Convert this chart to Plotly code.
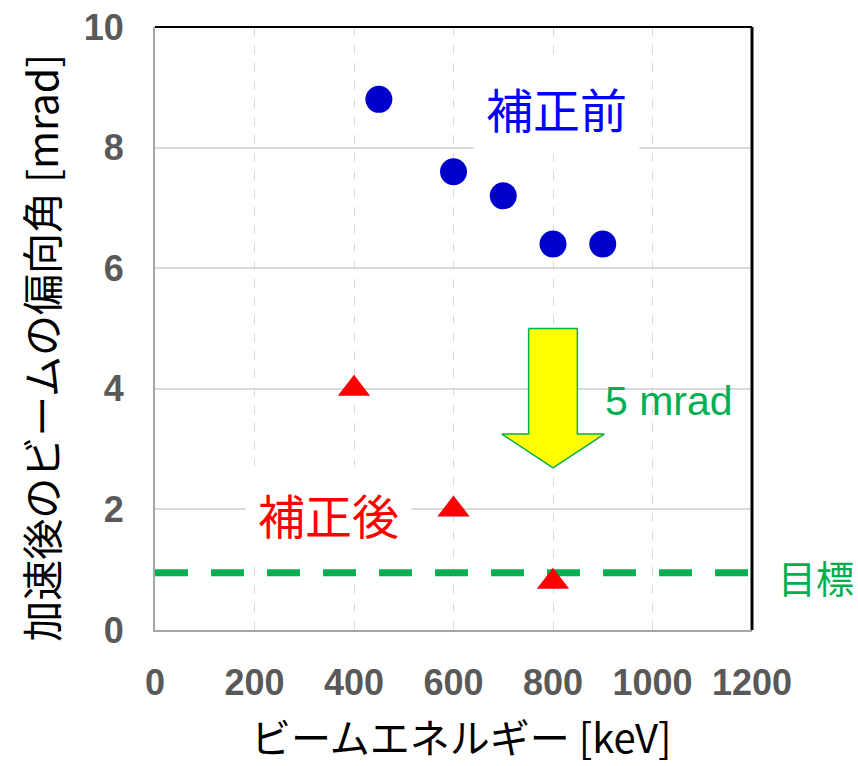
import plotly.graph_objects as go

# Beam deflection angle vs. beam energy, before and after correction
energy_before = [450, 600, 700, 800, 900]
angle_before = [8.8, 7.6, 7.2, 6.4, 6.4]

energy_after = [400, 600, 800]
angle_after = [4.0, 2.0, 0.8]

target_angle = 0.95
x_range = [0, 1200]
y_range = [0, 10]
x_ticks = [0, 200, 400, 600, 800, 1000, 1200]
y_ticks = [0, 2, 4, 6, 8, 10]

# Down arrow showing the ~5 mrad reduction at 800 keV
arrow_x = 800
arrow_top = 5.0
arrow_neck = 3.25
arrow_tip = 2.69
shaft_half = 49
head_half = 103

GREEN = "#00B050"
TICK_GREY = "#595959"
GRID = "#d9d9d9"
JP_FONT = "Noto Sans CJK JP, Liberation Sans, Arial, sans-serif"
NUM_FONT = "Liberation Sans, Arial, sans-serif"

fig = go.Figure()

ax = [arrow_x - shaft_half, arrow_x + shaft_half, arrow_x + shaft_half,
      arrow_x + head_half, arrow_x, arrow_x - head_half,
      arrow_x - shaft_half, arrow_x - shaft_half]
ay = [arrow_top, arrow_top, arrow_neck, arrow_neck, arrow_tip, arrow_neck,
      arrow_neck, arrow_top]
fig.add_trace(go.Scatter(x=ax, y=ay, mode="lines", fill="toself",
                         fillcolor="#FFFF00", line=dict(color=GREEN, width=1.5),
                         hoverinfo="skip", showlegend=False))

fig.add_trace(go.Scatter(x=x_range, y=[target_angle, target_angle], mode="lines",
                         line=dict(color=GREEN, width=7, dash="33px,23px"),
                         showlegend=False))

fig.add_trace(go.Scatter(x=energy_before, y=angle_before, mode="markers",
                         marker=dict(symbol="circle", size=27, color="#0000CC"),
                         showlegend=False))
fig.add_trace(go.Scatter(x=energy_after, y=angle_after, mode="markers",
                         marker=dict(symbol="triangle-up", size=28, color="#FF0000"),
                         showlegend=False))

fig.add_annotation(x=808, y=8.66, xref="x", yref="y", text="補正前", showarrow=False,
                   font=dict(family=JP_FONT, size=47, color="#0000FF"),
                   bgcolor="white", borderpad=12)
fig.add_annotation(x=348, y=1.93, xref="x", yref="y", text="補正後", showarrow=False,
                   font=dict(family=JP_FONT, size=47, color="#FF0000"),
                   bgcolor="white", borderpad=12)
fig.add_annotation(x=900, y=3.8, xref="x", yref="y", text="5 mrad", showarrow=False,
                   xanchor="left", font=dict(family=NUM_FONT, size=41, color=GREEN))
fig.add_annotation(x=1.0, y=0.88, xref="paper", yref="y", text="目標", showarrow=False,
                   xanchor="left", xshift=24,
                   font=dict(family=JP_FONT, size=38, color=GREEN))

# Axis titles
fig.add_annotation(x=0.5, y=0, xref="paper", yref="paper", yanchor="middle",
                   xshift=8, yshift=-106, text="ビームエネルギー [keV]", showarrow=False,
                   font=dict(family=JP_FONT, size=40, color="black"))
fig.add_annotation(x=0, y=0.468, xref="paper", yref="paper", xanchor="center",
                   xshift=-115, text="加速後のビームの偏向角 [mrad]", showarrow=False,
                   textangle=-90,
                   font=dict(family=JP_FONT, size=41, color="black"))

# Top and right frame lines
fig.add_shape(type="line", xref="paper", yref="paper", x0=0, x1=1, y0=1, y1=1,
              line=dict(color="black", width=2))
fig.add_shape(type="line", xref="paper", yref="paper", x0=1, x1=1, y0=0, y1=1,
              line=dict(color="black", width=3))

fig.update_xaxes(range=x_range, tickvals=x_ticks, showgrid=True, gridcolor=GRID,
                 griddash="dash", gridwidth=1, zeroline=False, automargin=False,
                 showline=True, linecolor="#a6a6a6", linewidth=2,
                 ticks="", ticklabelstandoff=20,
                 tickfont=dict(family=NUM_FONT, size=36, color=TICK_GREY, weight="bold"))
fig.update_yaxes(range=y_range, tickvals=y_ticks, showgrid=True, gridcolor=GRID,
                 gridwidth=1.5, zeroline=False, automargin=False,
                 showline=True, linecolor="#a6a6a6", linewidth=2,
                 ticks="", ticklabelstandoff=22,
                 tickfont=dict(family=NUM_FONT, size=36, color=TICK_GREY, weight="bold"))

fig.update_layout(width=858, height=766, plot_bgcolor="white", paper_bgcolor="white",
                  margin=dict(l=155, r=106, t=27, b=136), showlegend=False)

fig.write_html("out.html")
